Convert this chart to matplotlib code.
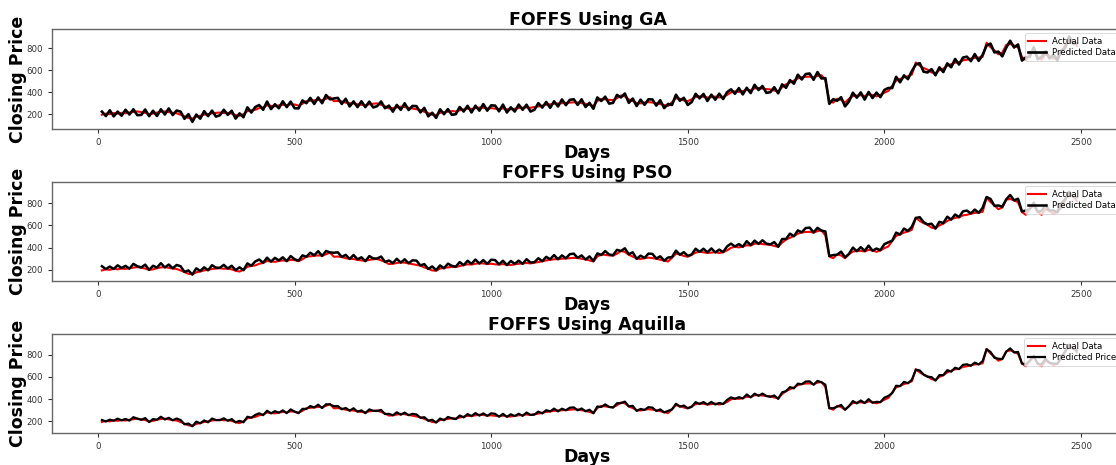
import numpy as np
import matplotlib
matplotlib.use("Agg")
import matplotlib.pyplot as plt

# ---- data (one value every 10 days) ----
days = np.arange(10, 2500, 10)

actual = [
    195, 205, 200, 210, 205, 212, 208, 215, 220, 225,
    218, 212, 200, 205, 215, 222, 225, 218, 212, 208,
    195, 180, 165, 160, 178, 185, 195, 200, 208, 212,
    215, 210, 212, 205, 192, 185, 200, 228, 235, 240,
    255, 262, 280, 276, 272, 280, 285, 282, 290, 288,
    278, 295, 318, 322, 325, 330, 328, 340, 355, 318,
    320, 315, 305, 300, 298, 290, 285, 282, 290, 295,
    298, 285, 272, 252, 255, 262, 268, 265, 258, 250,
    245, 238, 222, 210, 195, 192, 212, 218, 222, 228,
    225, 235, 242, 250, 248, 255, 260, 258, 252, 255,
    250, 248, 252, 245, 244, 250, 255, 258, 262, 258,
    265, 270, 278, 285, 290, 295, 298, 300, 302, 305,
    308, 306, 300, 295, 285, 275, 320, 338, 335, 330,
    328, 345, 370, 362, 335, 320, 302, 298, 305, 310,
    306, 300, 292, 285, 275, 310, 345, 340, 325, 318,
    335, 355, 362, 358, 352, 355, 360, 352, 358, 375,
    398, 408, 402, 410, 422, 418, 435, 438, 432, 428,
    425, 415, 408, 445, 472, 488, 505, 525, 536, 540,
    542, 535, 548, 555, 510, 320, 305, 340, 330, 305,
    340, 365, 368, 372, 365, 380, 375, 362, 375, 395,
    410, 460, 505, 520, 535, 545, 560, 670, 640, 620,
    605, 580, 572, 600, 615, 640, 655, 668, 672, 690,
    695, 705, 712, 715, 722, 850, 810, 780, 745, 760,
    830, 838, 825, 808, 720, 695, 750, 775, 720, 695,
    745, 730, 705, 720, 760, 830, 875, 860, 820,
]

pred_ga = [
    223, 183, 235, 180, 223, 186, 240, 197, 244, 191,
    193, 242, 182, 231, 183, 244, 197, 252, 192, 233,
    223, 158, 200, 130, 196, 159, 227, 182, 232, 178,
    190, 240, 194, 231, 160, 207, 172, 262, 215, 265,
    283, 240, 315, 246, 290, 254, 317, 264, 314, 254,
    253, 325, 300, 348, 293, 352, 300, 374, 335, 343,
    348, 293, 340, 270, 316, 264, 317, 264, 314, 261,
    273, 315, 254, 278, 223, 284, 240, 299, 238, 275,
    273, 216, 257, 180, 213, 166, 244, 200, 246, 194,
    200, 265, 224, 276, 216, 277, 232, 292, 232, 280,
    278, 226, 287, 215, 262, 224, 287, 240, 286, 224,
    240, 300, 260, 311, 258, 317, 270, 334, 282, 330,
    336, 284, 335, 265, 303, 249, 352, 320, 359, 296,
    303, 375, 352, 388, 303, 342, 274, 332, 285, 335,
    334, 278, 327, 255, 293, 284, 377, 322, 349, 284,
    310, 385, 344, 384, 320, 377, 332, 386, 338, 400,
    426, 386, 437, 380, 440, 392, 467, 420, 456, 394,
    400, 445, 390, 471, 440, 510, 477, 559, 516, 565,
    570, 513, 583, 525, 528, 294, 337, 322, 354, 271,
    315, 395, 350, 398, 333, 402, 347, 396, 355, 420,
    438, 438, 540, 490, 553, 519, 592, 652, 664, 586,
    580, 610, 554, 626, 583, 662, 627, 702, 652, 715,
    723, 683, 747, 685, 740, 824, 842, 762, 769, 726,
    805, 868, 807, 834, 688, 717, 722, 809, 700, 720,
    773, 708, 740, 690, 778, 804, 907, 842, 844,
]

pred_pso = [
    233, 207, 230, 208, 241, 217, 236, 211, 254, 233,
    222, 247, 200, 237, 221, 260, 222, 248, 214, 244,
    233, 182, 195, 158, 214, 190, 223, 196, 242, 220,
    219, 245, 212, 237, 198, 223, 197, 258, 237, 276,
    293, 264, 310, 274, 308, 285, 313, 278, 324, 296,
    282, 330, 318, 354, 331, 368, 325, 370, 357, 354,
    358, 317, 335, 298, 334, 295, 313, 278, 324, 303,
    302, 320, 272, 284, 261, 300, 265, 295, 260, 286,
    283, 240, 252, 208, 231, 197, 240, 214, 256, 236,
    229, 270, 242, 282, 254, 293, 257, 288, 254, 291,
    288, 250, 282, 243, 280, 255, 283, 254, 296, 266,
    269, 305, 278, 317, 296, 333, 295, 330, 304, 341,
    346, 308, 330, 293, 321, 280, 348, 334, 369, 338,
    332, 380, 370, 394, 341, 358, 299, 328, 307, 346,
    344, 302, 322, 283, 311, 315, 373, 336, 359, 326,
    339, 390, 362, 390, 358, 393, 357, 382, 360, 411,
    436, 410, 432, 408, 458, 423, 463, 434, 466, 436,
    429, 450, 408, 477, 478, 526, 502, 555, 538, 576,
    580, 537, 578, 553, 546, 325, 333, 336, 364, 313,
    344, 400, 368, 404, 371, 418, 372, 392, 377, 431,
    448, 462, 535, 518, 571, 550, 588, 666, 674, 628,
    609, 615, 572, 632, 621, 678, 652, 698, 674, 726,
    733, 707, 742, 713, 758, 855, 838, 776, 779, 768,
    834, 873, 825, 840, 726, 733, 747, 805, 722, 731,
    783, 732, 735, 718, 796, 835, 903, 856, 854,
]

pred_aquilla = [
    213, 199, 216, 206, 225, 210, 222, 207, 238, 225,
    214, 230, 194, 221, 215, 242, 217, 232, 210, 226,
    213, 174, 181, 156, 198, 183, 209, 192, 226, 212,
    211, 228, 206, 221, 192, 205, 192, 242, 233, 258,
    273, 256, 296, 272, 292, 278, 299, 274, 308, 288,
    274, 313, 312, 338, 325, 350, 320, 354, 353, 336,
    338, 309, 321, 296, 318, 288, 299, 274, 308, 295,
    294, 303, 266, 268, 255, 282, 260, 279, 256, 268,
    263, 232, 238, 206, 215, 190, 226, 210, 240, 228,
    221, 253, 236, 266, 248, 275, 252, 272, 250, 273,
    268, 242, 268, 241, 264, 248, 269, 250, 280, 258,
    261, 288, 272, 301, 290, 315, 290, 314, 300, 323,
    326, 300, 316, 291, 305, 273, 334, 330, 353, 330,
    324, 363, 364, 378, 335, 340, 294, 312, 303, 328,
    324, 294, 308, 281, 295, 308, 359, 332, 343, 318,
    331, 373, 356, 374, 352, 375, 352, 366, 356, 393,
    416, 402, 418, 406, 442, 416, 449, 430, 450, 428,
    421, 433, 402, 461, 472, 508, 497, 539, 534, 558,
    560, 529, 564, 551, 530, 318, 319, 332, 348, 305,
    336, 383, 362, 388, 365, 400, 367, 376, 373, 413,
    428, 454, 521, 516, 555, 543, 574, 662, 658, 620,
    601, 598, 566, 616, 615, 660, 647, 682, 670, 708,
    713, 699, 728, 711, 742, 848, 824, 772, 763, 760,
    826, 856, 819, 824, 720, 715, 742, 789, 718, 713,
    763, 724, 721, 716, 780, 828, 889, 852, 838,
]

titles = ["FOFFS Using GA", "FOFFS Using PSO", "FOFFS Using Aquilla"]
pred_labels = ["Predicted Data", "Predicted Data", "Predicted Price"]
preds = [pred_ga, pred_pso, pred_aquilla]
ylims = [(65, 975), (100, 990), (96, 985)]
xticks = [0, 500, 1000, 1500, 2000, 2500]
yticks = [200, 400, 600, 800]

# ---- figure ----
W, H = 1116, 465
fig = plt.figure(figsize=(W / 100, H / 100), dpi=100)

left = 52 / W
width = 1071 / W
tops = [29, 182, 334]
bottoms = [129, 281, 433]
pred_lw = [1.9, 1.8, 1.6]

for i in range(3):
    b = 1 - bottoms[i] / H
    h = (bottoms[i] - tops[i]) / H
    ax = fig.add_axes([left, b, width, h])
    ax.plot(days, actual, color="red", lw=1.5, label="Actual Data")
    ax.plot(days, preds[i], color="black", lw=pred_lw[i], label=pred_labels[i])
    ax.set_xlim(-117, 2607)
    ax.set_ylim(*ylims[i])
    ax.set_xticks(xticks)
    ax.set_yticks(yticks)
    ax.tick_params(labelsize=6.2, colors="#333333", length=3)
    for s in ax.spines.values():
        s.set_color("#666666")
        s.set_linewidth(1.0)
    ax.set_title(titles[i], fontsize=12.5, fontweight="bold", pad=3)
    ax.set_xlabel("Days", fontsize=12.5, fontweight="bold", labelpad=-2)
    ax.set_ylabel("Closing Price", fontsize=12.5, fontweight="bold")
    ax.yaxis.set_label_coords(-25 / 1071, 0.5)
    leg = ax.legend(loc="upper right", bbox_to_anchor=(1 + 1 / 1071, 1),
                    fontsize=6.2, handlelength=2.0,
                    borderpad=0.4, labelspacing=0.3)
    leg.get_frame().set_linewidth(0.6)

fig.savefig("out.png", dpi=100)
